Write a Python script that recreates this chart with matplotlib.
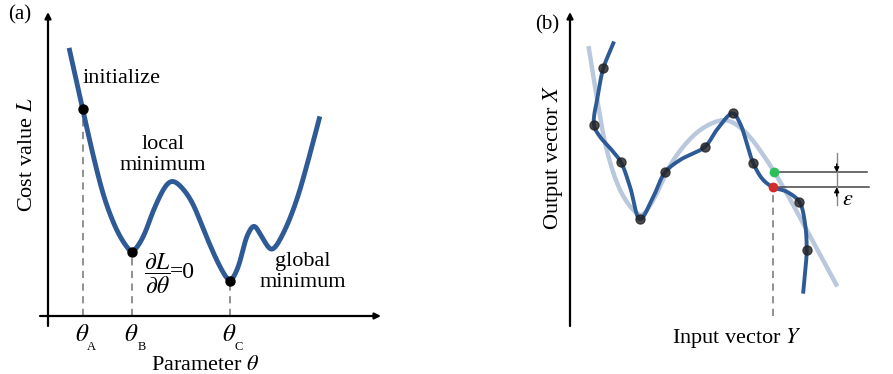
import numpy as np
import matplotlib
matplotlib.use('Agg')
import matplotlib.pyplot as plt

plt.rcParams['font.family'] = ['Liberation Serif', 'DejaVu Serif']
plt.rcParams['mathtext.fontset'] = 'stix'

# panel (a): cost curve knots (theta, L)
cost_theta = [19.7, 34.7, 47, 57, 68.7, 78.7, 84.3, 95.3, 107, 123.3, 141, 157, 172,
              182, 190.3, 198.7, 206, 213.7, 223.7, 235.3, 248.7, 260.3, 273]
cost_L = [274.3, 206.7, 153, 116, 86, 69.3, 64.3, 79.3, 109.3, 135.7, 119.3, 82.7, 49.3,
          35.3, 49.3, 79.3, 90.3, 79.3, 66, 82.7, 116, 156, 204]
marked_idx = [1, 6, 13]
marked_subs = ['A', 'B', 'C']

# panel (b): smooth fit and over-fitted curve
fit_y = [18.3, 26.7, 36.7, 50, 63.3, 71.7, 83.3, 103.3, 130, 155, 173.3, 196.7, 216.7, 236.7, 268.3]
fit_x = [271, 219.3, 166, 126, 106, 101, 116, 156, 186, 196, 186, 156, 122.7, 86, 27.7]
over_y = [43.3, 33.3, 28.3, 24, 30, 41.7, 51, 60, 70, 83.3, 95, 110, 135, 146.7, 162.7,
          170, 183.3, 193.3, 203.3, 216.7, 229.3, 235, 236.7, 235, 233.3]
over_x = [272.7, 247.7, 222.7, 191, 179.3, 166, 153.7, 129.3, 96.7, 119.3, 143.7, 156, 169.3,
          186, 202.7, 192.7, 152.7, 136, 128.7, 124.3, 114.3, 92.7, 66, 42.7, 24.3]
sample_idx = [1, 3, 6, 8, 10, 12, 14, 16, 20, 22]
green_pt = (204, 143.7)
red_pt = (203.3, 128.7)

BLUE = '#2e5a96'
GRAY = '#b9c8dc'


def smooth(xs, ys, n=30, win=1):
    # centripetal Catmull-Rom through the knots, optional light moving average
    p = np.column_stack([xs, ys]).astype(float)
    p = np.vstack([2 * p[0] - p[1], p, 2 * p[-1] - p[-2]])
    out = []
    for i in range(1, len(p) - 2):
        p0, p1, p2, p3 = p[i - 1], p[i], p[i + 1], p[i + 2]
        t0 = 0
        t1 = t0 + np.linalg.norm(p1 - p0) ** 0.5
        t2 = t1 + np.linalg.norm(p2 - p1) ** 0.5
        t3 = t2 + np.linalg.norm(p3 - p2) ** 0.5
        t = np.linspace(t1, t2, n)[:, None]
        a1 = (t1 - t) / (t1 - t0) * p0 + (t - t0) / (t1 - t0) * p1
        a2 = (t2 - t) / (t2 - t1) * p1 + (t - t1) / (t2 - t1) * p2
        a3 = (t3 - t) / (t3 - t2) * p2 + (t - t2) / (t3 - t2) * p3
        b1 = (t2 - t) / (t2 - t0) * a1 + (t - t0) / (t2 - t0) * a2
        b2 = (t3 - t) / (t3 - t1) * a2 + (t - t1) / (t3 - t1) * a3
        c = (t2 - t) / (t2 - t1) * b1 + (t - t1) / (t2 - t1) * b2
        out.append(c)
    c = np.vstack(out)
    if win > 1:
        k = np.ones(win) / win
        pad = win // 2
        cp = np.pad(c, ((pad, pad), (0, 0)), mode='edge')
        c = np.column_stack([np.convolve(cp[:, j], k, mode='valid') for j in range(2)])
    return c[:, 0], c[:, 1]


def axis_arrows(ax, x0, x1, y0, y1):
    kw = dict(arrowstyle='-|>', lw=1.6, color='k', mutation_scale=9, shrinkA=0, shrinkB=0)
    ax.annotate('', xy=(x1, 0), xytext=(x0, 0), arrowprops=kw)
    ax.annotate('', xy=(0, y1), xytext=(0, y0), arrowprops=kw)


fig = plt.figure(figsize=(8.93, 3.74), dpi=100)

# ---- (a)
ax = fig.add_axes([0, 0, 1, 1])
ax.set_xlim(-48, 893 - 48)
ax.set_ylim(-58, 316)
ax.axis('off')
axis_arrows(ax, -8, 333, -10, 304)

cx, cy = smooth(cost_theta, cost_L, win=21)
ax.plot(cx, cy, color=BLUE, lw=3.5, solid_capstyle='butt', zorder=3)
for i, sub in zip(marked_idx, marked_subs):
    ax.plot([cost_theta[i], cost_theta[i]], [0, cost_L[i]], ls=(0, (4, 3)), color='#888888', lw=1.3)
    ax.plot(cost_theta[i], cost_L[i], 'o', color='k', ms=6.5, zorder=4)
    ax.text(cost_theta[i] - 1, -19, r'$\theta$', ha='center', va='center', fontsize=18)
    ax.text(cost_theta[i] + 9, -31, sub, ha='center', va='center', fontsize=9)

ax.text(-28, 301, '(a)', ha='center', va='center', fontsize=15)
ax.text(35, 238, 'initialize', ha='left', va='center', fontsize=16)
ax.text(115, 161, 'local\nminimum', ha='center', va='center', fontsize=16, linespacing=1.1)
ax.text(109, 42, r'$\dfrac{\partial L}{\partial \theta}$', ha='center', va='center', fontsize=17)
ax.text(122, 44, '=0', ha='left', va='center', fontsize=17)
ax.text(255, 44, 'global\nminimum', ha='center', va='center', fontsize=16, linespacing=1.1)
ax.text(157, -49, r'Parameter $\theta$', ha='center', va='center', fontsize=16)
ax.text(-20, 161, r'Cost value $L$', ha='center', va='center', fontsize=16, rotation=90)

# ---- (b)
bx = fig.add_axes([0, 0, 1, 1])
bx.patch.set_alpha(0)
bx.set_xlim(-570, 893 - 570)
bx.set_ylim(-58, 316)
bx.axis('off')
axis_arrows(bx, -7, 325, -10, 304)

fx, fy = smooth(fit_y, fit_x, win=15)
bx.plot(fx, fy, color=GRAY, lw=3.2, zorder=2)
ox, oy = smooth(over_y, over_x)
bx.plot(ox, oy, color=BLUE, lw=2.8, zorder=3)
bx.plot([over_y[i] for i in sample_idx], [over_x[i] for i in sample_idx], 'o',
        color='#222222', alpha=0.8, ms=6.5, zorder=4)
bx.plot([red_pt[0], red_pt[0]], [0, red_pt[1]], ls=(0, (4, 3)), color='#888888', lw=1.3, zorder=1)
bx.plot(*green_pt, 'o', color='#2ebf5a', ms=6, zorder=5)
bx.plot(*red_pt, 'o', color='#d42a2a', ms=6, zorder=5)

# epsilon gap marker
bx.plot([209.3, 296.7], [green_pt[1], green_pt[1]], color='#444444', lw=1.1)
bx.plot([209.3, 299.3], [red_pt[1], red_pt[1]], color='#444444', lw=1.1)
bx.plot([266.7, 266.7], [111, 163.3], color='#888888', lw=1)
ak = dict(arrowstyle='-|>', lw=1, color='k', mutation_scale=7, shrinkA=0, shrinkB=0)
bx.annotate('', xy=(266.7, green_pt[1]), xytext=(266.7, 152), arrowprops=ak)
bx.annotate('', xy=(266.7, red_pt[1]), xytext=(266.7, 120), arrowprops=ak)
bx.text(278, 116, r'$\varepsilon$', ha='center', va='center', fontsize=16)

bx.text(-23, 291, '(b)', ha='center', va='center', fontsize=15)
bx.text(-17, 159, r'Output vector $X$', ha='center', va='center', fontsize=16, rotation=90)
bx.text(167, -22, r'Input vector $Y$', ha='center', va='center', fontsize=16)

fig.savefig('out.png', dpi=100)
